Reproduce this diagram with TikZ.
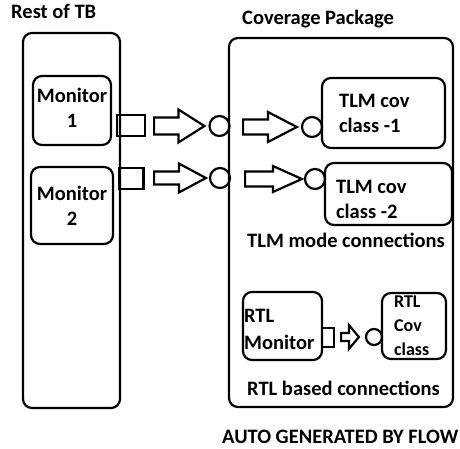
\documentclass[tikz,border=0pt]{standalone}
\usepackage{fontspec}
\setmainfont{Carlito}
\usetikzlibrary{calc}
\tikzset{
  lw/.style={line width=2.2pt},
  box/.style={draw, lw, rounded corners=9pt, inner sep=0pt},
  portsq/.style={draw, lw, rectangle, inner sep=0pt},
  portc/.style={draw, lw, circle, inner sep=0pt},
  lbl/.style={font=\fontsize{20.5}{25}\selectfont\bfseries, inner sep=0pt},
  lblsm/.style={font=\fontsize{18}{24}\selectfont\bfseries, inner sep=0pt},
  blk/.style={draw, lw, line join=miter, fill=white},
}
% hollow block arrow: tail x from #1, tip at #2, shaft/head half heights, head length
\newcommand\blockarrow[5]{%
  \draw[blk] let \p1=(#1), \p2=(#2) in
    (\x1,\y2+#3) -- (\x2-#5,\y2+#3) -- (\x2-#5,\y2+#4) -- (\x2,\y2) --
    (\x2-#5,\y2-#4) -- (\x2-#5,\y2-#3) -- (\x1,\y2-#3) -- cycle;}
\begin{document}
\begin{tikzpicture}[x=1pt,y=-1pt]
\clip (0,0) rectangle (460,448);

% titles
\node[lbl, anchor=base west] (tbtitle) at (11,18) {Rest of TB};
\node[lbl, anchor=base west] (covtitle) at (242,24) {Coverage Package};

% rest of testbench
\node[box, minimum width=97, minimum height=375] (tb) at (71.5,220.5) {};
\node[box, minimum width=78, minimum height=69] (mon1) at (72,110.5) {};
\node[lbl, align=center] (mon1txt) at ([yshift=3pt]mon1.center) {Monitor\\1};
\node[box, minimum width=82, minimum height=77] (mon2) at (72,205.5) {};
\node[lbl, align=center] (mon2txt) at (mon2.center) {Monitor\\2};

% coverage package
\node[box, minimum width=224, minimum height=369] (cov) at (341,222.5) {};
\node[box, minimum width=123, minimum height=70] (tlm1) at (383.5,113) {};
\node[lbl, align=left, anchor=west] (tlm1txt) at ([xshift=18pt]tlm1.west) {TLM cov\\class -1};
\node[box, minimum width=127, minimum height=62] (tlm2) at (388.5,194) {};
\node[lbl, align=left, anchor=west] (tlm2txt) at ([xshift=12pt,yshift=-5pt]tlm2.west) {TLM cov\\class -2};
\node[lbl, anchor=base west] (tlmtxt) at (247,247) {TLM mode connections};

\node[box, minimum width=79, minimum height=68] (rtlmon) at (282.5,326) {};
\node[lbl, font=\fontsize{20.5}{27}\selectfont\bfseries, align=left, anchor=west] (rtlmontxt) at ([xshift=2pt,yshift=-3pt]rtlmon.west) {RTL\\Monitor};
\node[box, minimum width=64, minimum height=66] (rtlcov) at (414,326) {};
\node[lblsm, align=left, anchor=west] (rtlcovtxt) at ([xshift=13pt]rtlcov.west) {RTL\\Cov\\class};
\node[lbl, anchor=base west] (rtltxt) at (247,395) {RTL based connections};

\node[lbl, anchor=base west] (flow) at (222,443) {AUTO GENERATED BY FLOW};

% ports
\node[portsq, minimum width=28, minimum height=21] (sq1) at (131,125.5) {};
\node[portsq, minimum width=24, minimum height=21] (sq2) at (131.5,178.5) {};
\node[portsq, minimum width=12, minimum height=19] (sq3) at (328,337.5) {};
\node[portc, minimum size=20] (c1) at (219.5,126) {};
\node[portc, minimum size=20] (c2) at (220,178) {};
\node[portc, minimum size=20] (c3) at (312,127) {};
\node[portc, minimum size=20] (c4) at (315,179) {};
\node[portc, minimum size=16] (c5) at (374,337) {};

% connections
\blockarrow{$(sq1.east)+(8,0)$}{$(c1.west)+(-4,0)$}{8.5pt}{16.5pt}{26pt}
\blockarrow{$(sq2.east)+(9.5,0)$}{$(c2.west)+(-3,0)$}{6.5pt}{14.5pt}{27pt}
\blockarrow{$(c1.east)+(12.5,0)$}{$(c3.west)+(-4,0)$}{7.5pt}{15pt}{29pt}
\blockarrow{$(c2.east)+(14,0)$}{$(c4.west)+(-2,0)$}{7.5pt}{13pt}{29pt}
\blockarrow{$(sq3.east)+(6,0)$}{$(c5.west)+(-6,0)$}{4pt}{12pt}{10pt}
\end{tikzpicture}
\end{document}
